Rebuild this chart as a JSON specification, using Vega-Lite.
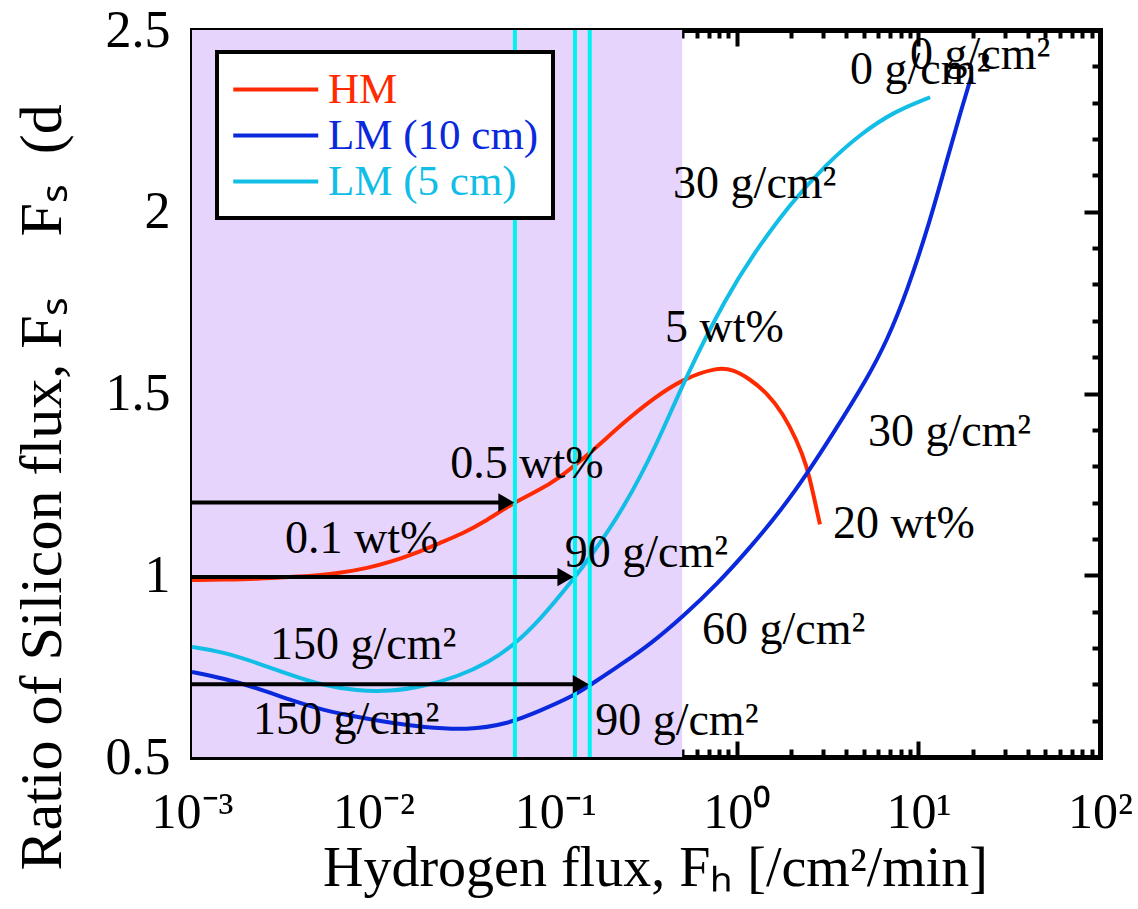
{
  "$schema": "https://vega.github.io/schema/vega-lite/v6.json",
  "width": 908,
  "height": 727,
  "autosize": "none",
  "padding": {"left": 192, "top": 30, "right": 38, "bottom": 152},
  "background": "white",
  "config": {
    "font": "Liberation Serif",
    "view": {"stroke": null},
    "axis": {
      "domainColor": "black", "domainWidth": 5, "domainCap": "square",
      "tickColor": "black", "tickWidth": 4,
      "labelFont": "Liberation Serif", "labelFontSize": 50, "labelColor": "black",
      "titleFont": "Liberation Serif", "titleFontWeight": "normal", "titleColor": "black",
      "grid": false, "zindex": 1, "labelOverlap": false, "labelFlush": false, "labelBound": false
    }
  },
  "datasets": {
    "shade": [{"x0": 0.001, "x1": 0.5, "y0": 0.5, "y1": 2.5}],
    "curves": [
      {"series": "HM", "x": 0.001, "y": 0.987},
      {"series": "HM", "x": 0.0015, "y": 0.988},
      {"series": "HM", "x": 0.00228, "y": 0.99},
      {"series": "HM", "x": 0.00347, "y": 0.995},
      {"series": "HM", "x": 0.005, "y": 1.0},
      {"series": "HM", "x": 0.00653, "y": 1.006},
      {"series": "HM", "x": 0.0093, "y": 1.02},
      {"series": "HM", "x": 0.0123, "y": 1.036},
      {"series": "HM", "x": 0.017, "y": 1.06},
      {"series": "HM", "x": 0.0232, "y": 1.089},
      {"series": "HM", "x": 0.031, "y": 1.115},
      {"series": "HM", "x": 0.04, "y": 1.144},
      {"series": "HM", "x": 0.0586, "y": 1.199},
      {"series": "HM", "x": 0.08, "y": 1.232},
      {"series": "HM", "x": 0.102, "y": 1.262},
      {"series": "HM", "x": 0.156, "y": 1.336},
      {"series": "HM", "x": 0.236, "y": 1.419},
      {"series": "HM", "x": 0.35, "y": 1.488},
      {"series": "HM", "x": 0.506, "y": 1.54},
      {"series": "HM", "x": 0.778, "y": 1.572},
      {"series": "HM", "x": 0.953, "y": 1.566},
      {"series": "HM", "x": 1.18, "y": 1.54},
      {"series": "HM", "x": 1.47, "y": 1.501},
      {"series": "HM", "x": 1.79, "y": 1.446},
      {"series": "HM", "x": 2.14, "y": 1.372},
      {"series": "HM", "x": 2.44, "y": 1.298},
      {"series": "HM", "x": 2.63, "y": 1.226},
      {"series": "HM", "x": 2.87, "y": 1.14},
      {"series": "LM (10 cm)", "x": 0.001, "y": 0.734},
      {"series": "LM (10 cm)", "x": 0.00148, "y": 0.717},
      {"series": "LM (10 cm)", "x": 0.00228, "y": 0.69},
      {"series": "LM (10 cm)", "x": 0.00347, "y": 0.657},
      {"series": "LM (10 cm)", "x": 0.00526, "y": 0.629},
      {"series": "LM (10 cm)", "x": 0.0081, "y": 0.61},
      {"series": "LM (10 cm)", "x": 0.0123, "y": 0.594},
      {"series": "LM (10 cm)", "x": 0.0187, "y": 0.582},
      {"series": "LM (10 cm)", "x": 0.0327, "y": 0.574},
      {"series": "LM (10 cm)", "x": 0.0543, "y": 0.59},
      {"series": "LM (10 cm)", "x": 0.0825, "y": 0.627},
      {"series": "LM (10 cm)", "x": 0.125, "y": 0.667},
      {"series": "LM (10 cm)", "x": 0.156, "y": 0.698},
      {"series": "LM (10 cm)", "x": 0.236, "y": 0.758},
      {"series": "LM (10 cm)", "x": 0.333, "y": 0.81},
      {"series": "LM (10 cm)", "x": 0.506, "y": 0.887},
      {"series": "LM (10 cm)", "x": 0.778, "y": 0.975},
      {"series": "LM (10 cm)", "x": 1.18, "y": 1.075},
      {"series": "LM (10 cm)", "x": 1.79, "y": 1.185},
      {"series": "LM (10 cm)", "x": 2.44, "y": 1.28},
      {"series": "LM (10 cm)", "x": 3.39, "y": 1.39},
      {"series": "LM (10 cm)", "x": 5.21, "y": 1.54},
      {"series": "LM (10 cm)", "x": 6.71, "y": 1.645},
      {"series": "LM (10 cm)", "x": 8.65, "y": 1.78},
      {"series": "LM (10 cm)", "x": 11.6, "y": 1.975},
      {"series": "LM (10 cm)", "x": 14.4, "y": 2.145},
      {"series": "LM (10 cm)", "x": 17.2, "y": 2.28},
      {"series": "LM (10 cm)", "x": 19.5, "y": 2.37},
      {"series": "LM (5 cm)", "x": 0.001, "y": 0.803},
      {"series": "LM (5 cm)", "x": 0.00148, "y": 0.789},
      {"series": "LM (5 cm)", "x": 0.00228, "y": 0.759},
      {"series": "LM (5 cm)", "x": 0.00347, "y": 0.726},
      {"series": "LM (5 cm)", "x": 0.00526, "y": 0.697},
      {"series": "LM (5 cm)", "x": 0.0081, "y": 0.682},
      {"series": "LM (5 cm)", "x": 0.0123, "y": 0.68},
      {"series": "LM (5 cm)", "x": 0.0187, "y": 0.694},
      {"series": "LM (5 cm)", "x": 0.0288, "y": 0.72},
      {"series": "LM (5 cm)", "x": 0.0438, "y": 0.763},
      {"series": "LM (5 cm)", "x": 0.0586, "y": 0.806},
      {"series": "LM (5 cm)", "x": 0.0825, "y": 0.877},
      {"series": "LM (5 cm)", "x": 0.125, "y": 0.987},
      {"series": "LM (5 cm)", "x": 0.156, "y": 1.05},
      {"series": "LM (5 cm)", "x": 0.236, "y": 1.18},
      {"series": "LM (5 cm)", "x": 0.364, "y": 1.36},
      {"series": "LM (5 cm)", "x": 0.506, "y": 1.53},
      {"series": "LM (5 cm)", "x": 0.883, "y": 1.77},
      {"series": "LM (5 cm)", "x": 1.28, "y": 1.895},
      {"series": "LM (5 cm)", "x": 1.99, "y": 2.025},
      {"series": "LM (5 cm)", "x": 3.1, "y": 2.13},
      {"series": "LM (5 cm)", "x": 4.76, "y": 2.213},
      {"series": "LM (5 cm)", "x": 7.43, "y": 2.277},
      {"series": "LM (5 cm)", "x": 11.6, "y": 2.315}
    ],
    "vlines": [{"x": 0.06}, {"x": 0.1285}, {"x": 0.155}],
    "arrows": [
      {"y": 1.2, "x0": 0.001, "x1": 0.053, "tip": 0.0595},
      {"y": 0.995, "x0": 0.001, "x1": 0.112, "tip": 0.126},
      {"y": 0.7, "x0": 0.001, "x1": 0.136, "tip": 0.153}
    ],
    "labels": [
      {"x": 4.2, "y": 2.39, "text": "0 g/cm²"},
      {"x": 9.0, "y": 2.431, "text": "0 g/cm²"},
      {"x": 0.446, "y": 2.076, "text": "30 g/cm²"},
      {"x": 0.403, "y": 1.68, "text": "5 wt%"},
      {"x": 5.27, "y": 1.394, "text": "30 g/cm²"},
      {"x": 3.39, "y": 1.141, "text": "20 wt%"},
      {"x": 0.643, "y": 0.849, "text": "60 g/cm²"},
      {"x": 0.0264, "y": 1.306, "text": "0.5 wt%"},
      {"x": 0.00325, "y": 1.1, "text": "0.1 wt%"},
      {"x": 0.113, "y": 1.061, "text": "90 g/cm²"},
      {"x": 0.00269, "y": 0.808, "text": "150 g/cm²"},
      {"x": 0.00217, "y": 0.602, "text": "150 g/cm²"},
      {"x": 0.166, "y": 0.6, "text": "90 g/cm²"}
    ]
  },
  "layer": [
    {
      "data": {"name": "shade"},
      "mark": {"type": "rect", "color": "#E6D4FC"},
      "encoding": {
        "x": {
          "field": "x0", "type": "quantitative",
          "scale": {"type": "log", "domain": [0.001, 100], "nice": false},
          "axis": {
            "orient": "bottom",
            "values": [0.001,0.002,0.003,0.004,0.005,0.006,0.007,0.008,0.009,0.01,0.02,0.03,0.04,0.05,0.06,0.07,0.08,0.09,0.1,0.2,0.3,0.4,0.5,0.6,0.7,0.8,0.9,1,2,3,4,5,6,7,8,9,10,20,30,40,50,60,70,80,90,100],
            "labelExpr": "abs(log(datum.value)/LN10 - round(log(datum.value)/LN10)) < 0.001 ? (round(log(datum.value)/LN10) == -3 ? '10⁻³' : round(log(datum.value)/LN10) == -2 ? '10⁻²' : round(log(datum.value)/LN10) == -1 ? '10⁻¹' : round(log(datum.value)/LN10) == 0 ? '10⁰' : round(log(datum.value)/LN10) == 1 ? '10¹' : '10²') : ''",
            "tickSize": {"condition": {"test": "abs(log(datum.value)/LN10 - round(log(datum.value)/LN10)) < 0.001", "value": -16}, "value": -8},
            "labelPadding": 46,
            "title": "Hydrogen flux, Fₕ [/cm²/min]",
            "titleFontSize": 56,
            "titleX": 463, "titleY": 128,
            "titleAlign": "center", "titleBaseline": "alphabetic"
          }
        },
        "x2": {"field": "x1"},
        "y": {
          "field": "y0", "type": "quantitative",
          "scale": {"domain": [0.5, 2.5], "nice": false, "zero": false},
          "axis": {
            "orient": "left",
            "values": [0.5,0.6,0.7,0.8,0.9,1.0,1.1,1.2,1.3,1.4,1.5,1.6,1.7,1.8,1.9,2.0,2.1,2.2,2.3,2.4,2.5],
            "format": ".1~f",
            "labelExpr": "abs(datum.value*2 - round(datum.value*2)) < 0.001 ? datum.label : ''",
            "tickSize": {"condition": {"test": "abs(datum.value*2 - round(datum.value*2)) < 0.001", "value": -16}, "value": -8},
            "labelPadding": 38,
            "labelFontSize": 52,
            "title": "Ratio of Silicon flux, Fₛ\u2003Fₛ\u2002(d",
            "titleFontSize": 60,
            "titleAngle": -90,
            "titleX": -132, "titleY": 840,
            "titleAlign": "left", "titleBaseline": "alphabetic"
          }
        },
        "y2": {"field": "y1"}
      }
    },
    {
      "data": {"name": "curves"},
      "mark": {"type": "line", "strokeWidth": 4, "interpolate": "basis"},
      "encoding": {
        "x": {"field": "x", "type": "quantitative", "axis": null},
        "y": {"field": "y", "type": "quantitative", "axis": null},
        "color": {
          "field": "series", "type": "nominal",
          "scale": {"domain": ["HM", "LM (10 cm)", "LM (5 cm)"], "range": ["#FF2A00", "#0A28DC", "#12BDE6"]},
          "legend": {
            "title": null, "orient": "none", "legendX": 25, "legendY": 22,
            "symbolType": "M-1,0L3,0", "symbolSize": 1806, "symbolStrokeWidth": 4,
            "labelFontSize": 43, "labelFont": "Liberation Serif", "labelOffset": 50, "labelLimit": 0,
            "rowPadding": 0, "padding": 14,
            "fillColor": "white", "strokeColor": "black",
            "encode": {
              "labels": {"update": {"fill": {"scale": "color", "field": "value"}}},
              "legend": {"update": {"strokeWidth": {"value": 4}}}
            }
          }
        }
      }
    },
    {
      "data": {"name": "vlines"},
      "mark": {"type": "rule", "color": "#00F2F2", "strokeWidth": 4},
      "encoding": {
        "x": {"field": "x", "type": "quantitative", "axis": null}
      }
    },
    {
      "data": {"name": "arrows"},
      "mark": {"type": "rule", "color": "black", "strokeWidth": 4},
      "encoding": {
        "x": {
          "field": "x0", "type": "quantitative",
          "axis": {
            "orient": "top", "labels": false, "title": null,
            "values": [0.001,0.002,0.003,0.004,0.005,0.006,0.007,0.008,0.009,0.01,0.02,0.03,0.04,0.05,0.06,0.07,0.08,0.09,0.1,0.2,0.3,0.4,0.5,0.6,0.7,0.8,0.9,1,2,3,4,5,6,7,8,9,10,20,30,40,50,60,70,80,90,100],
            "tickSize": {"condition": {"test": "abs(log(datum.value)/LN10 - round(log(datum.value)/LN10)) < 0.001", "value": -16}, "value": -8}
          }
        },
        "x2": {"field": "x1"},
        "y": {
          "field": "y", "type": "quantitative",
          "axis": {
            "orient": "right", "labels": false, "title": null,
            "values": [0.5,0.6,0.7,0.8,0.9,1.0,1.1,1.2,1.3,1.4,1.5,1.6,1.7,1.8,1.9,2.0,2.1,2.2,2.3,2.4,2.5],
            "tickSize": {"condition": {"test": "abs(datum.value*2 - round(datum.value*2)) < 0.001", "value": -16}, "value": -8}
          }
        }
      }
    },
    {
      "data": {"name": "arrows"},
      "mark": {"type": "point", "shape": "M0,0L-1.732,-1L-1.732,1Z", "filled": true, "color": "black", "opacity": 1, "size": 340, "strokeWidth": 0},
      "encoding": {
        "x": {"field": "tip", "type": "quantitative", "axis": null},
        "y": {"field": "y", "type": "quantitative", "axis": null}
      }
    },
    {
      "data": {"name": "labels"},
      "mark": {"type": "text", "align": "left", "baseline": "middle", "fontSize": 46, "font": "Liberation Serif", "color": "black"},
      "encoding": {
        "x": {"field": "x", "type": "quantitative", "axis": null},
        "y": {"field": "y", "type": "quantitative", "axis": null},
        "text": {"field": "text"}
      }
    }
  ],
  "resolve": {"axis": {"x": "independent", "y": "independent"}}
}
